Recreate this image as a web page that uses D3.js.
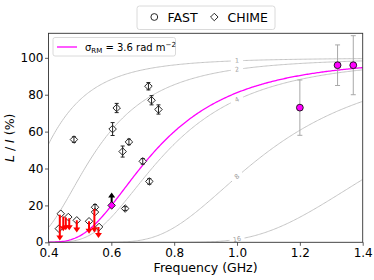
<!DOCTYPE html>
<html>
<head>
<meta charset="utf-8">
<script src="https://cdn.jsdelivr.net/npm/d3@7/dist/d3.min.js"></script>
<style>
body { margin: 0; background: #ffffff; }
svg { display: block; font-family: "DejaVu Sans", sans-serif; }
</style>
</head>
<body>
<div id="chart"></div>
<script>
// FAST detections (GHz, L/I %, error)
var fastFreq = [1.2, 1.32, 1.37];
var fastFrac = [73, 96, 96];
var fastErr = [15, 11, 16];

// CHIME detections
var chimeFreq = [0.718, 0.728, 0.750, 0.617, 0.604, 0.481, 0.656, 0.636, 0.700, 0.721, 0.644, 0.548, 0.548,
                 0.439, 0.433, 0.463, 0.490, 0.529, 0.561];
var chimeFrac = [84.6, 77.0, 72.0, 72.8, 61.4, 55.7, 54.4, 49.2, 43.9, 33.0, 18.3, 19.0, 16.4,
                 15.5, 7.4, 13.7, 11.9, 11.4, 8.3];
var chimeErr = [2, 2.5, 2.5, 2.5, 3.5, 1.5, 1.5, 3, 1.5, 1.5, 1, 1.5, 0,
                0, 0, 0, 0, 0, 0];

// CHIME upper limits (red arrows)
var upperFreq = [0.436, 0.447, 0.455, 0.466, 0.490, 0.529, 0.546, 0.559];
var upperFrom = [15.0, 14.0, 13.5, 13.0, 11.9, 11.4, 18.0, 8.3];
var upperTo = [1.0, 6.0, 6.5, 6.5, 5.3, 4.7, 5.3, 2.3];

// lower limit at 0.6 GHz
var lowerFreq = [0.601];
var lowerFrom = [20];
var lowerTo = [27];

// RM spread curves (rad m^-2)
var sigmaGrid = [1, 2, 4, 8, 16];
var sigmaFit = 3.6;

var xTicks = [0.4, 0.6, 0.8, 1.0, 1.2, 1.4];
var yTicks = [0, 20, 40, 60, 80, 100];

ChartRenderer = {

    options: {
        width: 374,
        height: 280,
        left: 48.5,
        right: 362.7,
        top: 33.3,
        bottom: 242.3,
        magenta: "#ff00ff",
        curveGrey: "#c4c4c4",
        labelGrey: "#a0a0a0",
        frame: "#333333"
    },

    // depolarisation from a Gaussian RM spread: exp(-2 sigma^2 lambda^4)
    depol: function(sigma, f) {
        var lam = 0.299792458 / f;
        return 100 * Math.exp(-2 * sigma * sigma * Math.pow(lam, 4));
    },

    curvePoints: function(sigma) {
        var pts = [];
        for (var f = 0.4; f <= 1.4001; f += 0.004) {
            pts.push([f, ChartRenderer.depol(sigma, f)]);
        }
        return pts;
    },

    render: function() {
        var o = ChartRenderer.options;
        var svg = d3.select("#chart").append("svg")
            .attr("width", o.width).attr("height", o.height);

        var x = d3.scaleLinear().domain([0.4, 1.4]).range([o.left, o.right]);
        var y = d3.scaleLinear().domain([0, 113.3]).range([o.bottom, o.top]);

        svg.append("defs").append("clipPath").attr("id", "plotclip")
            .append("rect")
            .attr("x", o.left).attr("y", o.top)
            .attr("width", o.right - o.left).attr("height", o.bottom - o.top);

        var plot = svg.append("g").attr("clip-path", "url(#plotclip)");
        var line = d3.line().x(function(d) { return x(d[0]); }).y(function(d) { return y(d[1]); });

        // grey RM curves with inline labels at 1.0 GHz
        sigmaGrid.forEach(function(s) {
            var pts = ChartRenderer.curvePoints(s);
            var lx = x(1.0), ly = y(ChartRenderer.depol(s, 1.0));
            var gap = String(s).length > 1 ? 7 : 6;
            var segs = [[]];
            pts.forEach(function(p) {
                var dx = x(p[0]) - lx, dy = y(p[1]) - ly;
                if (Math.sqrt(dx * dx + dy * dy) < gap) {
                    if (segs[segs.length - 1].length) segs.push([]);
                } else {
                    segs[segs.length - 1].push(p);
                }
            });
            segs.forEach(function(seg) {
                if (seg.length < 2) return;
                plot.append("path").attr("d", line(seg))
                    .attr("fill", "none").attr("stroke", o.curveGrey).attr("stroke-width", 1);
            });
            var x1 = x(0.99), x2 = x(1.01);
            var y1 = y(ChartRenderer.depol(s, 0.99)), y2 = y(ChartRenderer.depol(s, 1.01));
            var ang = Math.atan2(y2 - y1, x2 - x1) * 180 / Math.PI;
            plot.append("text")
                .attr("transform", "translate(" + lx + "," + ly + ") rotate(" + ang + ")")
                .attr("text-anchor", "middle").attr("dominant-baseline", "central")
                .attr("font-size", "6.5px").attr("fill", o.labelGrey)
                .text(s);
        });

        // fitted curve
        plot.append("path").attr("d", line(ChartRenderer.curvePoints(sigmaFit)))
            .attr("fill", "none").attr("stroke", o.magenta).attr("stroke-width", 1.3);

        // CHIME diamonds
        var diamond = d3.symbol().type(d3.symbolDiamond2).size(36);
        chimeFreq.forEach(function(f, i) {
            plot.append("path").attr("d", diamond())
                .attr("transform", "translate(" + x(f) + "," + y(chimeFrac[i]) + ")")
                .attr("fill", "#ffffff").attr("stroke", "#111111").attr("stroke-width", 0.9);
        });
        chimeFreq.forEach(function(f, i) {
            var e = chimeErr[i];
            if (!e) return;
            var cx = x(f), t = y(chimeFrac[i] + e), b = y(chimeFrac[i] - e);
            var g = plot.append("g").attr("stroke", "#222222").attr("stroke-width", 1);
            g.append("line").attr("x1", cx).attr("x2", cx).attr("y1", t).attr("y2", b);
            g.append("line").attr("x1", cx - 2).attr("x2", cx + 2).attr("y1", t).attr("y2", t);
            g.append("line").attr("x1", cx - 2).attr("x2", cx + 2).attr("y1", b).attr("y2", b);
        });

        // upper limits
        upperFreq.forEach(function(f, i) {
            var cx = x(f), t = y(upperFrom[i]), b = y(upperTo[i]);
            plot.append("line").attr("x1", cx).attr("x2", cx).attr("y1", t).attr("y2", b - 2)
                .attr("stroke", "#ff0000").attr("stroke-width", 2);
            plot.append("path")
                .attr("d", "M" + (cx - 3.5) + "," + (b - 5) + "L" + (cx + 3.5) + "," + (b - 5) + "L" + cx + "," + b + "Z")
                .attr("fill", "#ff0000");
        });

        // lower limit
        lowerFreq.forEach(function(f, i) {
            var cx = x(f), b = y(lowerFrom[i]), t = y(lowerTo[i]);
            plot.append("line").attr("x1", cx).attr("x2", cx).attr("y1", b).attr("y2", t + 2)
                .attr("stroke", "#000000").attr("stroke-width", 2);
            plot.append("path")
                .attr("d", "M" + (cx - 3.5) + "," + (t + 5) + "L" + (cx + 3.5) + "," + (t + 5) + "L" + cx + "," + t + "Z")
                .attr("fill", "#000000");
            plot.append("path").attr("d", diamond())
                .attr("transform", "translate(" + cx + "," + b + ")")
                .attr("fill", o.magenta).attr("stroke", "#111111").attr("stroke-width", 0.9);
        });

        // FAST points with error bars
        fastFreq.forEach(function(f, i) {
            var cx = x(f), t = y(fastFrac[i] + fastErr[i]), b = y(fastFrac[i] - fastErr[i]);
            var g = plot.append("g").attr("stroke", "#a8a8a8").attr("stroke-width", 1);
            g.append("line").attr("x1", cx).attr("x2", cx).attr("y1", t).attr("y2", b);
            g.append("line").attr("x1", cx - 2.5).attr("x2", cx + 2.5).attr("y1", t).attr("y2", t);
            g.append("line").attr("x1", cx - 2.5).attr("x2", cx + 2.5).attr("y1", b).attr("y2", b);
        });
        fastFreq.forEach(function(f, i) {
            plot.append("circle").attr("cx", x(f)).attr("cy", y(fastFrac[i])).attr("r", 3.4)
                .attr("fill", o.magenta).attr("stroke", "#111111").attr("stroke-width", 0.9);
        });

        // axes
        var xAxis = svg.append("g").attr("transform", "translate(0," + o.bottom + ")")
            .call(d3.axisBottom(x).tickValues(xTicks).tickFormat(d3.format(".1f")).tickSizeInner(3.5).tickSizeOuter(0));
        var yAxis = svg.append("g").attr("transform", "translate(" + o.left + ",0)")
            .call(d3.axisLeft(y).tickValues(yTicks).tickSizeInner(3.5).tickSizeOuter(0));
        [xAxis, yAxis].forEach(function(a) {
            a.select(".domain").remove();
            a.selectAll("line").attr("stroke", o.frame).attr("stroke-width", 0.8);
            a.selectAll("text").attr("font-family", "DejaVu Sans").attr("font-size", "12px").attr("fill", "#000");
        });
        xAxis.selectAll("text").attr("y", 6.5);
        yAxis.selectAll("text").attr("x", -5).attr("dy", "0.3em");

        svg.append("rect")
            .attr("x", o.left).attr("y", o.top)
            .attr("width", o.right - o.left).attr("height", o.bottom - o.top)
            .attr("fill", "none").attr("stroke", o.frame).attr("stroke-width", 0.9);

        svg.append("text").attr("x", (o.left + o.right) / 2).attr("y", 272)
            .attr("text-anchor", "middle").attr("font-size", "12.5px").text("Frequency (GHz)");

        var yl = svg.append("text")
            .attr("transform", "translate(13.5," + ((o.top + o.bottom) / 2) + ") rotate(-90)")
            .attr("text-anchor", "middle").attr("font-size", "12.5px");
        yl.append("tspan").attr("font-style", "italic").text("L");
        yl.append("tspan").text(" / ");
        yl.append("tspan").attr("font-style", "italic").text("I");
        yl.append("tspan").text(" (%)");

        // inner legend
        var lg = svg.append("g");
        lg.append("rect").attr("x", 53).attr("y", 37.5).attr("width", 122.5).attr("height", 18.5).attr("rx", 2)
            .attr("fill", "#ffffff").attr("stroke", "#d0d0d0").attr("stroke-width", 0.8);
        lg.append("line").attr("x1", 57).attr("x2", 77).attr("y1", 47).attr("y2", 47)
            .attr("stroke", o.magenta).attr("stroke-width", 1.3);
        var lt = lg.append("text").attr("x", 85).attr("y", 50.5).attr("font-size", "10px");
        lt.append("tspan").text("σ");
        lt.append("tspan").attr("font-size", "7px").attr("dy", 2).text("RM");
        lt.append("tspan").attr("dy", -2).text(" = 3.6 rad m");
        lt.append("tspan").attr("font-size", "7px").attr("dy", -4).text("−2");

        // top legend
        var tg = svg.append("g");
        tg.append("rect").attr("x", 137).attr("y", 6).attr("width", 138).attr("height", 23.5).attr("rx", 2.5)
            .attr("fill", "#ffffff").attr("stroke", "#d0d0d0").attr("stroke-width", 0.8);
        tg.append("circle").attr("cx", 154.3).attr("cy", 17).attr("r", 3.4)
            .attr("fill", "none").attr("stroke", "#111").attr("stroke-width", 0.9);
        tg.append("text").attr("x", 167.5).attr("y", 21.5).attr("font-size", "12.5px").text("FAST");
        tg.append("path").attr("d", diamond()).attr("transform", "translate(214.3,17)")
            .attr("fill", "none").attr("stroke", "#111").attr("stroke-width", 0.9);
        tg.append("text").attr("x", 227.5).attr("y", 21.5).attr("font-size", "12.5px").text("CHIME");
    }
};

ChartRenderer.render();
</script>
</body>
</html>
